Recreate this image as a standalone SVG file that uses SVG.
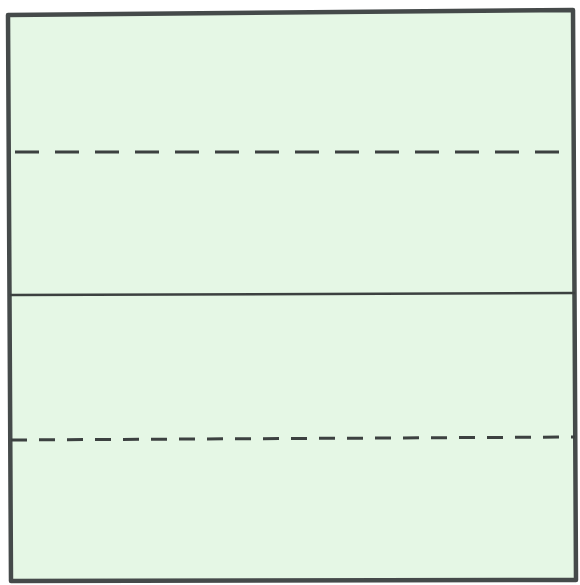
<svg xmlns="http://www.w3.org/2000/svg" width="580" height="585" viewBox="0 0 580 585">
<style>
.frame{fill:#e5f7e5;stroke:#454a4a;stroke-width:4.5;stroke-linejoin:round}
.line{stroke:#3c4140;stroke-width:2.5;fill:none}
.dash1{stroke-dasharray:24 16;stroke-width:3}
.dash2{stroke-dasharray:16 12;stroke-width:3}
</style>
<rect width="580" height="585" fill="#ffffff"/>
<g id="square">
<polygon class="frame" points="8,15 573,10 576,580 11,581"/>
</g>
<g id="lines">
<line class="line dash1" x1="10" y1="152" x2="574" y2="152" stroke-dashoffset="-5"/>
<line class="line" x1="10" y1="295" x2="575" y2="293"/>
<line class="line dash2" x1="11" y1="440" x2="575" y2="437"/>
</g>
</svg>
